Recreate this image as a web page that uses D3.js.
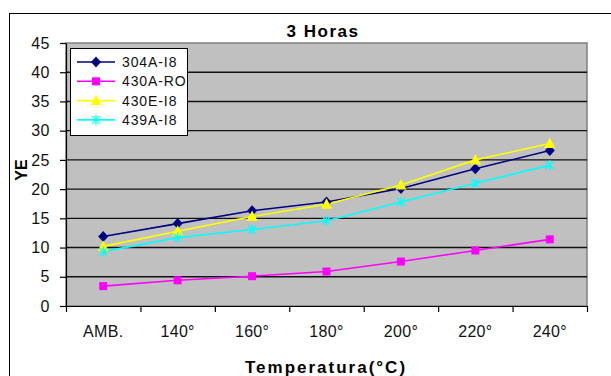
<!DOCTYPE html>
<html>
<head>
<meta charset="utf-8">
<script src="https://cdn.jsdelivr.net/npm/d3@7"></script>
<style>
  body { margin: 0; background: #fff; }
  svg { display: block; font-family: "Liberation Sans", Arial, sans-serif; }
</style>
</head>
<body>
<svg id="chart" width="611" height="376"></svg>
<script>
// DATA
var categories = ['AMB.', '140°', '160°', '180°', '200°', '220°', '240°'];
var yTicks = [0, 5, 10, 15, 20, 25, 30, 35, 40, 45];
var seriesNames = ['304A-I8', '430A-RO', '430E-I8', '439A-I8'];
var s304A = [11.9, 14.1, 16.3, 17.8, 20.1, 23.5, 26.6];
var s430A = [3.4, 4.4, 5.1, 5.9, 7.6, 9.5, 11.4];
var s430E = [10.2, 12.8, 15.3, 17.4, 20.7, 25.0, 27.8];
var s439A = [9.3, 11.7, 13.1, 14.6, 17.8, 21.0, 24.1];

var series = [
    { name: seriesNames[0], values: s304A, color: '#000080', marker: 'diamond' },
    { name: seriesNames[1], values: s430A, color: '#ff00ff', marker: 'square' },
    { name: seriesNames[2], values: s430E, color: '#ffff00', marker: 'triangle' },
    { name: seriesNames[3], values: s439A, color: '#00ffff', marker: 'star' }
];

var svg = d3.select('#chart');

// Plot area
var L = 66, R = 587, T = 43, B = 306;

var x = d3.scaleBand().domain(categories).range([L, R]);
var y = d3.scaleLinear().domain([0, 45]).range([B, T]);

// Outer chart border (only top and left visible)
svg.append('rect')
    .attr('x', 9.5).attr('y', 13.5)
    .attr('width', 700).attr('height', 500)
    .style('fill', '#fff').style('stroke', '#000').style('stroke-width', 1);

// Plot background
svg.append('rect')
    .attr('x', L).attr('y', T)
    .attr('width', R - L).attr('height', B - T)
    .style('fill', '#c0c0c0').style('stroke', '#808080').style('stroke-width', 1.5);

// Gridlines
svg.append('g')
    .selectAll('line')
    .data(yTicks.filter(function(d) { return d > 0 && d < 45; }))
    .enter()
    .append('line')
    .attr('x1', L).attr('x2', R)
    .attr('y1', function(d) { return y(d); })
    .attr('y2', function(d) { return y(d); })
    .style('stroke', '#111').style('stroke-width', 1.4);

// Y axis
var yAxis = svg.append('g')
    .attr('transform', 'translate(' + L + ',0)')
    .call(d3.axisLeft(y).tickValues(yTicks).tickSize(6).tickSizeOuter(0).tickPadding(10));
yAxis.select('.domain').style('stroke', '#000').style('stroke-width', 1.2);
yAxis.selectAll('line').style('stroke', '#000').style('stroke-width', 1.2);
yAxis.selectAll('text')
    .style('font-size', '16px').style('fill', '#111')
    .style('letter-spacing', '0.5px');

// X axis: tick marks at category boundaries
var xb = d3.scaleLinear().domain([0, categories.length]).range([L, R]);
var xAxisTicks = svg.append('g')
    .attr('transform', 'translate(0,' + B + ')')
    .call(d3.axisBottom(xb).ticks(categories.length).tickFormat('').tickSize(6).tickSizeOuter(0));
xAxisTicks.select('.domain').style('stroke', '#000').style('stroke-width', 1.2);
xAxisTicks.selectAll('line').style('stroke', '#000').style('stroke-width', 1.2);

// X axis labels
var xAxis = svg.append('g')
    .attr('transform', 'translate(0,' + B + ')')
    .call(d3.axisBottom(x).tickSize(0).tickPadding(20));
xAxis.select('.domain').remove();
xAxis.selectAll('text')
    .style('font-size', '16px').style('fill', '#111')
    .style('letter-spacing', '0.3px');

// Lines
var lineGen = d3.line()
    .x(function(d, i) { return x(categories[i]) + x.bandwidth() / 2; })
    .y(function(d) { return y(d); });

series.forEach(function(s) {
    svg.append('path')
        .attr('d', lineGen(s.values))
        .style('fill', 'none')
        .style('stroke', s.color)
        .style('stroke-width', 1.6);
});

// Markers
function drawMarker(g, type, cx, cy, color) {
    if (type == 'diamond') {
        g.append('path')
            .attr('d', 'M' + cx + ',' + (cy - 5.5) + 'L' + (cx + 5) + ',' + cy + 'L' + cx + ',' + (cy + 5.5) + 'L' + (cx - 5) + ',' + cy + 'Z')
            .style('fill', color);
    } else if (type == 'square') {
        g.append('rect')
            .attr('x', cx - 4).attr('y', cy - 4)
            .attr('width', 8).attr('height', 8)
            .style('fill', color);
    } else if (type == 'triangle') {
        g.append('path')
            .attr('d', 'M' + cx + ',' + (cy - 6) + 'L' + (cx + 5.5) + ',' + (cy + 4.5) + 'L' + (cx - 5.5) + ',' + (cy + 4.5) + 'Z')
            .style('fill', color);
    } else {
        g.append('path')
            .attr('d', 'M' + (cx - 4) + ',' + (cy - 4) + 'L' + (cx + 4) + ',' + (cy + 4) +
                       'M' + (cx + 4) + ',' + (cy - 4) + 'L' + (cx - 4) + ',' + (cy + 4) +
                       'M' + cx + ',' + (cy - 5) + 'L' + cx + ',' + (cy + 5))
            .style('fill', 'none').style('stroke', color).style('stroke-width', 1.3);
    }
}

series.forEach(function(s) {
    var g = svg.append('g');
    s.values.forEach(function(v, i) {
        drawMarker(g, s.marker, x(categories[i]) + x.bandwidth() / 2, y(v), s.color);
    });
});

// Legend
var legend = svg.append('g');
legend.append('rect')
    .attr('x', 70.5).attr('y', 48.5)
    .attr('width', 117).attr('height', 87)
    .style('fill', '#fff');
series.forEach(function(s, i) {
    var ly = 62 + i * 19.3;
    legend.append('line')
        .attr('x1', 77).attr('x2', 115)
        .attr('y1', ly).attr('y2', ly)
        .style('stroke', s.color).style('stroke-width', 1.6);
    drawMarker(legend, s.marker, 96, ly, s.color);
    legend.append('text')
        .attr('x', 122).attr('y', ly + 5)
        .style('font-size', '14px').style('fill', '#111')
        .style('letter-spacing', '0.9px')
        .text(s.name);
});
legend.append('rect')
    .attr('x', 70.5).attr('y', 48.5)
    .attr('width', 117).attr('height', 87)
    .style('fill', 'none').style('stroke', '#000').style('stroke-width', 1);

// Title
svg.append('text')
    .attr('x', 323).attr('y', 37)
    .attr('text-anchor', 'middle')
    .style('font-size', '17px').style('font-weight', 'bold')
    .style('letter-spacing', '1.5px')
    .text('3 Horas');

// Axis titles
svg.append('text')
    .attr('x', 326).attr('y', 373)
    .attr('text-anchor', 'middle')
    .style('font-size', '17px').style('font-weight', 'bold')
    .style('letter-spacing', '2px')
    .text('Temperatura(°C)');

svg.append('text')
    .attr('transform', 'translate(27,170) rotate(-90)')
    .attr('text-anchor', 'middle')
    .style('font-size', '16px').style('font-weight', 'bold')
    .text('YE');
</script>
</body>
</html>
